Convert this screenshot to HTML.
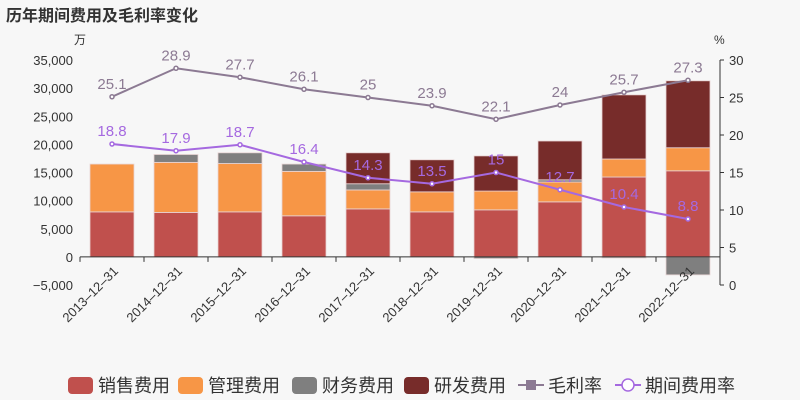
<!DOCTYPE html>
<html><head><meta charset="utf-8"><style>
body{margin:0;background:#f7f7f7;}
svg{display:block;font-family:"Liberation Sans","Noto Sans CJK SC",sans-serif;}
</style></head><body>
<svg id="c" width="800" height="400">
<rect width="800" height="400" fill="#f7f7f7"/>
<text x="6" y="21" font-size="16" font-weight="bold" fill="#333">历年期间费用及毛利率变化</text>
<text x="74" y="44" font-size="12" fill="#333">万</text>
<text x="714" y="44" font-size="12" fill="#333">%</text>
<g id="grid"></g><g id="bars"></g><g id="axes"></g><g id="lines"></g><g id="legend"></g>
</svg>
<script>
const categories=['2013-12-31','2014-12-31','2015-12-31','2016-12-31','2017-12-31','2018-12-31','2019-12-31','2020-12-31','2021-12-31','2022-12-31'];
const sales=[8000,7900,8000,7300,8530,8000,8360,9780,14200,15300];
const mgmt=[8500,8900,8600,7900,3370,3560,3340,3520,3200,4100];
const finance=[0,1400,1900,1300,1100,0,-300,400,-200,-3200];
const rnd=[0,0,0,0,5500,5700,6250,6900,11400,11900];
const gross=[25.1,28.9,27.7,26.1,25,23.9,22.1,24,25.7,27.3];
const expRate=[18.8,17.9,18.7,16.4,14.3,13.5,15,12.7,10.4,8.8];
const leftTicks=[-5000,0,5000,10000,15000,20000,25000,30000,35000];
const rightTicks=[0,5,10,15,20,25,30];
const NS='http://www.w3.org/2000/svg';
const X0=80,X1=720,TOP=60,BOT=285;
const band=(X1-X0)/categories.length;
const xc=i=>X0+band*(i+0.5);
const yL=v=>BOT-(v+5000)/40000*(BOT-TOP);
const yR=v=>BOT-v/30*(BOT-TOP);
function mk(tag,attrs,parent,text){const e=document.createElementNS(NS,tag);for(const k in attrs)e.setAttribute(k,attrs[k]);if(text!==undefined)e.textContent=text;document.getElementById(parent).appendChild(e);return e;}
leftTicks.forEach(t=>{
 const l=mk('text',{x:X0-7,y:yL(t)+5,'text-anchor':'end','font-size':13,fill:'#333'},'axes',t.toLocaleString('en-US').replace('-','−'));
 
 
});
rightTicks.forEach(t=>{
 const l=mk('text',{x:X1+9,y:yR(t)+5,'font-size':13,fill:'#333'},'axes',t);
 
 
 mk('line',{x1:X1,x2:X1+4,y1:yR(t),y2:yR(t),stroke:'#333'},'axes');
});
mk('line',{x1:X1,x2:X1,y1:TOP,y2:BOT,stroke:'#333'},'axes');
mk('line',{x1:X0,x2:X1,y1:yL(0),y2:yL(0),stroke:'#333'},'axes');
categories.forEach((c,i)=>{
 mk('line',{x1:X0+band*i,x2:X0+band*i,y1:yL(0),y2:yL(0)+5,stroke:'#333'},'axes');
 const x=xc(i)+7,y=yL(0)+15;
 const l=mk('text',{x:x,y:y,'text-anchor':'end','font-size':13,fill:'#333',transform:`rotate(-45 ${x} ${y})`},'axes',c.replace(/-/g,'–'));
 
 
});
mk('line',{x1:X1,x2:X1,y1:yL(0),y2:yL(0)+5,stroke:'#333'},'axes');
const series=[[sales,'#c0504d','sales'],[mgmt,'#f79646','mgmt'],[finance,'#7f7f7f','finance'],[rnd,'#772c2a','rnd']];
const bw=44;
categories.forEach((c,i)=>{
 let pos=0,neg=0;
 series.forEach(([arr,col,nm])=>{
  const v=arr[i];if(!v)return;
  let a,b;
  if(v>0){a=pos;b=pos+v;pos=b;}else{a=neg;b=neg+v;neg=b;}
  const y1=yL(Math.max(a,b)),y2=yL(Math.min(a,b));
  const r=mk('rect',{x:xc(i)-bw/2,y:y1,width:bw,height:y2-y1,fill:col,stroke:'#e8d4d4','stroke-width':0.8},'bars');
  
  
 });
});
function line(arr,col,nm,labCol){
 const pts=arr.map((v,i)=>xc(i)+','+yR(v)).join(' ');
 const p=mk('polyline',{points:pts,fill:'none',stroke:col,'stroke-width':2},'lines');
 
 
 arr.forEach((v,i)=>{
  const d=mk('circle',{cx:xc(i),cy:yR(v),r:2,fill:'#fff',stroke:col,'stroke-width':1.5},'lines');
  
  
  const t=mk('text',{x:xc(i),y:yR(v)-8,'text-anchor':'middle','font-size':15,fill:labCol},'lines',v);
  
  
 });
}
line(gross,'#8c7a93','gross-margin','#8c7a93');
line(expRate,'#a569e0','expense-rate','#a569e0');
const leg=[['销售费用','#c0504d','rect',68],['管理费用','#f79646','rect',178],['财务费用','#7f7f7f','rect',292],['研发费用','#772c2a','rect',404],['毛利率','#8c7a93','line',518],['期间费用率','#a569e0','line',615]];
leg.forEach(([n,col,type,x])=>{
 const g=document.createElementNS(NS,'g');document.getElementById('legend').appendChild(g);
 
 
 if(type==='rect'){const r=document.createElementNS(NS,'rect');r.setAttribute('x',x);r.setAttribute('y',377);r.setAttribute('width',25);r.setAttribute('height',17);r.setAttribute('rx',4);r.setAttribute('fill',col);g.appendChild(r);}
 else{const l=document.createElementNS(NS,'line');l.setAttribute('x1',x);l.setAttribute('x2',x+26);l.setAttribute('y1',385);l.setAttribute('y2',385);l.setAttribute('stroke',col);l.setAttribute('stroke-width',2);g.appendChild(l);
  const m=document.createElementNS(NS,n==='毛利率'?'rect':'circle');
  if(n==='毛利率'){m.setAttribute('x',x+8);m.setAttribute('y',380);m.setAttribute('width',10);m.setAttribute('height',10);m.setAttribute('fill',col);}
  else{m.setAttribute('cx',x+13);m.setAttribute('cy',385);m.setAttribute('r',6);m.setAttribute('fill','#fff');m.setAttribute('stroke',col);m.setAttribute('stroke-width',1.5);}
  g.appendChild(m);}
 const t=document.createElementNS(NS,'text');t.setAttribute('x',x+30);t.setAttribute('y',392);t.setAttribute('font-size',18);t.setAttribute('fill','#333');t.textContent=n;g.appendChild(t);
});
</script>
</body></html>
